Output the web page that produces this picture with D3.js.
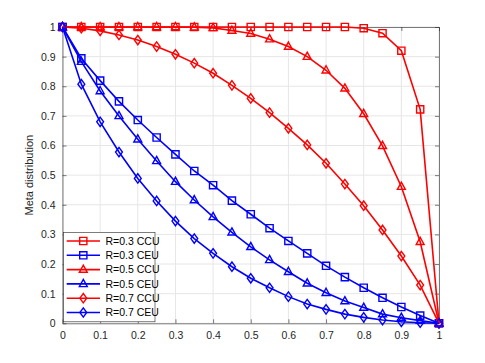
<!DOCTYPE html>
<html><head><meta charset="utf-8">
<script src="https://cdn.jsdelivr.net/npm/d3@7"></script>
<style>body{margin:0;background:#fff}svg{display:block}text{font-family:"Liberation Sans",Arial,sans-serif}</style>
</head><body><svg id="c" width="485" height="363"></svg>
<script>
const xs = [0,0.05,0.1,0.15,0.2,0.25,0.3,0.35,0.4,0.45,0.5,0.55,0.6,0.65,0.7,0.75,0.8,0.85,0.9,0.95,1];
const r03CCU = [1,1,1,1,1,1,1,1,1,1,1,1,1,1,1,1,0.996,0.979,0.92,0.722,0];
const r03CEU = [1,0.894,0.819,0.749,0.686,0.627,0.570,0.514,0.466,0.414,0.368,0.321,0.278,0.236,0.194,0.156,0.120,0.086,0.055,0.026,0];
const r05CCU = [1,1,1,1,1,1,1,0.999,0.997,0.988,0.978,0.959,0.934,0.900,0.854,0.793,0.707,0.599,0.461,0.275,0];
const r05CEU = [1,0.883,0.784,0.700,0.621,0.548,0.478,0.416,0.359,0.307,0.258,0.214,0.174,0.135,0.103,0.075,0.053,0.031,0.019,0.009,0];
const r07CCU = [1,0.996,0.987,0.973,0.956,0.934,0.908,0.878,0.844,0.803,0.759,0.711,0.658,0.602,0.540,0.470,0.397,0.315,0.227,0.129,0];
const r07CEU = [1,0.807,0.680,0.578,0.489,0.413,0.345,0.286,0.236,0.191,0.152,0.120,0.090,0.065,0.047,0.031,0.020,0.011,0.005,0.002,0];
const seriesNames = ["R=0.3 CCU","R=0.3 CEU","R=0.5 CCU","R=0.5 CEU","R=0.7 CCU","R=0.7 CEU"];
const seriesData = [r03CCU,r03CEU,r05CCU,r05CEU,r07CCU,r07CEU];
const seriesColors = ["#ff0000","#0000ff","#ff0000","#0000ff","#ff0000","#0000ff"];
const seriesMarkers = ["square","square","triangle","triangle","diamond","diamond"];
const tickVals = [0,0.1,0.2,0.3,0.4,0.5,0.6,0.7,0.8,0.9,1];
const tickLabels = ["0","0.1","0.2","0.3","0.4","0.5","0.6","0.7","0.8","0.9","1"];
const yLabel = "Meta distribution";

const L=62.5, R=439, T=27, B=323.3;
const svg = d3.select("#c");
const x = d3.scaleLinear().domain([0,1]).range([L,R]);
const y = d3.scaleLinear().domain([0,1]).range([B,T]);

// grid
const g = svg.append("g");
g.selectAll(".gx").data(tickVals).join("line").attr("x1",d=>x(d)).attr("x2",d=>x(d)).attr("y1",T).attr("y2",B).attr("stroke","#e6e6e6").attr("stroke-width",1);
g.selectAll(".gy").data(tickVals).join("line").attr("y1",d=>y(d)).attr("y2",d=>y(d)).attr("x1",L).attr("x2",R).attr("stroke","#e6e6e6").attr("stroke-width",1);

// axes
const ax = svg.append("g").attr("transform",`translate(0,${B})`).call(d3.axisBottom(x).tickValues(tickVals).tickFormat((d,i)=>tickLabels[i]).tickSizeInner(-4).tickSizeOuter(0).tickPadding(8));
const ay = svg.append("g").attr("transform",`translate(${L},0)`).call(d3.axisLeft(y).tickValues(tickVals).tickFormat((d,i)=>tickLabels[i]).tickSizeInner(-4).tickSizeOuter(0).tickPadding(7));
const axT = svg.append("g").attr("transform",`translate(0,${T})`).call(d3.axisTop(x).tickValues(tickVals).tickFormat("").tickSizeInner(-4).tickSizeOuter(0));
const ayR = svg.append("g").attr("transform",`translate(${R},0)`).call(d3.axisRight(y).tickValues(tickVals).tickFormat("").tickSizeInner(-4).tickSizeOuter(0));
[ax,ay,axT,ayR].forEach(a=>{a.selectAll("path").attr("stroke","#262626").attr("stroke-width",0.6);a.selectAll("line").attr("stroke","#262626").attr("stroke-width",0.6);a.selectAll("text").attr("fill","#262626").style("font-size","10.5px");});
svg.append("text").attr("transform",`translate(33,${(T+B)/2}) rotate(-90)`).attr("text-anchor","middle").attr("fill","#262626").style("font-size","11px").text(yLabel);

function markerPath(type,cx,cy,s){
  if(type==="square") return `M${cx-s},${cy-s}h${2*s}v${2*s}h${-2*s}Z`;
  if(type==="triangle") return `M${cx},${cy-s*1.25}L${cx+s*1.1},${cy+s*0.75}L${cx-s*1.1},${cy+s*0.75}Z`;
  return `M${cx},${cy-s*1.3}L${cx+s*0.95},${cy}L${cx},${cy+s*1.3}L${cx-s*0.95},${cy}Z`;
}
const line = d3.line().x((d,i)=>x(xs[i])).y(d=>y(d));
const plot = svg.append("g");
seriesData.forEach((data,k)=>{
  plot.append("path").attr("d",line(data)).attr("fill","none").attr("stroke",seriesColors[k]).attr("stroke-width",1.6);
  plot.selectAll(null).data(data).join("path").attr("d",(d,i)=>markerPath(seriesMarkers[k],x(xs[i]),y(d),3.6)).attr("fill","none").attr("stroke",seriesColors[k]).attr("stroke-width",1.4);
});

// legend
const lg = svg.append("g");
const lx=63.5, ly=232.3, lw=91.5, lh=89.5;
lg.append("rect").attr("x",lx).attr("y",ly).attr("width",lw).attr("height",lh).attr("fill","#fff").attr("stroke","#262626").attr("stroke-width",0.6);
seriesNames.forEach((n,k)=>{
  const cy = ly+8.7+k*14.3;
  lg.append("line").attr("x1",66.7).attr("x2",100).attr("y1",cy).attr("y2",cy).attr("stroke",seriesColors[k]).attr("stroke-width",1.6);
  lg.append("path").attr("d",markerPath(seriesMarkers[k],83.3,cy,3.6)).attr("fill","none").attr("stroke",seriesColors[k]).attr("stroke-width",1.4);
  lg.append("text").attr("x",105.5).attr("y",cy+3.7).attr("fill","#000").style("font-size","10.5px").text(n);
});
</script></body></html>
